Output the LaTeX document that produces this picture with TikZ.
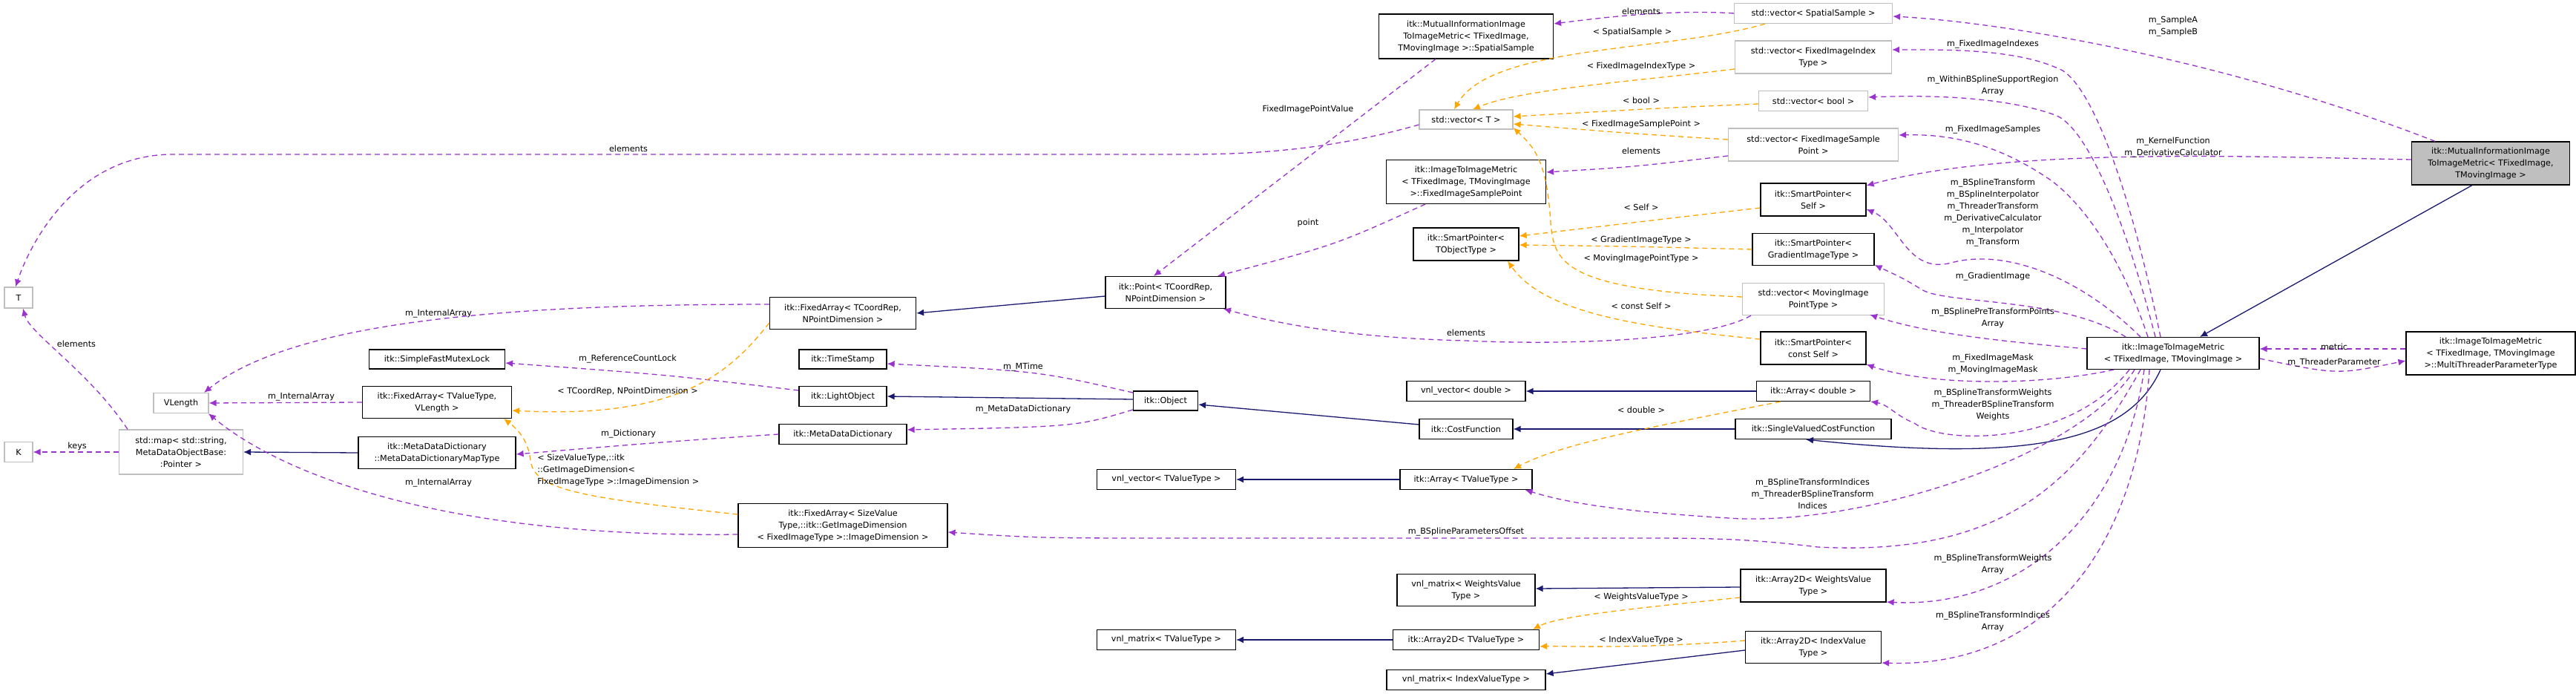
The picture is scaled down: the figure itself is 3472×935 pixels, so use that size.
\documentclass[tikz,border=0pt]{standalone}
\usepackage{fontspec}
\setmainfont{DejaVu Sans}
\usetikzlibrary{arrows.meta,calc}
\definecolor{pur}{HTML}{9A32CD}
\definecolor{org}{HTML}{FFA500}
\definecolor{nav}{HTML}{191970}
\definecolor{gb}{HTML}{BFBFBF}
\begin{document}
\begin{tikzpicture}[x=0.5pt,y=-0.5pt,
 box/.style={draw=black,line width=0.6pt,fill=white,inner sep=0pt,align=center,font=\fontsize{5.6}{8}\selectfont},
 gbox/.style={box,draw=gb},
 sz/.style 2 args={minimum width=#1*0.5pt,minimum height=#2*0.5pt},
 lbl/.style={inner sep=0pt,align=center,font=\fontsize{5.6}{8}\selectfont},
 pe/.style={draw=pur,line width=0.65pt,dash pattern=on 3.5pt off 2.5pt,-{Latex[length=5pt,width=4.5pt]}},
 oe/.style={draw=org,line width=0.65pt,dash pattern=on 3.5pt off 2.5pt,-{Latex[length=5pt,width=4.5pt]}},
 se/.style={draw=nav,line width=0.65pt,-{Latex[length=5pt,width=4.5pt]}}]
\useasboundingbox (0,0) rectangle (3472,935);
% nodes
\node[gbox,sz={38}{28}] (T) at (25,401) {T};
\node[gbox,sz={38}{27}] (K) at (25,609) {K};
\node[gbox,sz={74}{27}] (vl) at (244,543) {VLength};
\node[gbox,sz={167}{60}] (map) at (244,609) {std::map< std::string,\\MetaDataObjectBase:\\:Pointer >};
\node[box,sz={183}{26}] (sfm) at (589,484) {itk::SimpleFastMutexLock};
\node[box,sz={201}{43}] (fa2) at (589,542) {itk::FixedArray< TValueType,\\VLength >};
\node[box,sz={212}{43}] (mdt) at (589,610) {itk::MetaDataDictionary\\::MetaDataDictionaryMapType};
\node[box,sz={197}{43}] (fa1) at (1136,422) {itk::FixedArray< TCoordRep,\\NPointDimension >};
\node[box,sz={118}{26}] (ts) at (1136,484) {itk::TimeStamp};
\node[box,sz={118}{27}] (lo) at (1136,534) {itk::LightObject};
\node[box,sz={172}{27}] (mdd) at (1136,585) {itk::MetaDataDictionary};
\node[box,sz={282}{59}] (fasv) at (1136,708) {itk::FixedArray< SizeValue\\Type,::itk::GetImageDimension\\< FixedImageType >::ImageDimension >};
\node[box,sz={162}{43}] (pt) at (1571,394) {itk::Point< TCoordRep,\\NPointDimension >};
\node[box,sz={87}{26}] (obj) at (1571,540) {itk::Object};
\node[box,sz={187}{27}] (vvt) at (1572,646) {vnl\_vector< TValueType >};
\node[box,sz={187}{27}] (vmt) at (1572,862) {vnl\_matrix< TValueType >};
\node[box,sz={235}{60}] (ss) at (1976,49) {itk::MutualInformationImage\\ToImageMetric< TFixedImage,\\TMovingImage >::SpatialSample};
\node[gbox,sz={126}{26}] (vt) at (1976,161) {std::vector< T >};
\node[box,sz={215}{59}] (fsp) at (1976,245) {itk::ImageToImageMetric\\< TFixedImage, TMovingImage\\>::FixedImageSamplePoint};
\node[box,sz={142}{44}] (spt) at (1976,329) {itk::SmartPointer<\\TObjectType >};
\node[box,sz={160}{27}] (vvd) at (1976,527) {vnl\_vector< double >};
\node[box,sz={126}{27}] (cf) at (1976,578) {itk::CostFunction};
\node[box,sz={178}{27}] (at) at (1976,646) {itk::Array< TValueType >};
\node[box,sz={186}{43}] (vmw) at (1976,795) {vnl\_matrix< WeightsValue\\Type >};
\node[box,sz={197}{27}] (a2t) at (1976,862) {itk::Array2D< TValueType >};
\node[box,sz={214}{27}] (vmi) at (1976,916) {vnl\_matrix< IndexValueType >};
\node[gbox,sz={213}{27}] (vss) at (2444,18) {std::vector< SpatialSample >};
\node[gbox,sz={211}{44}] (vfi) at (2444,77) {std::vector< FixedImageIndex\\Type >};
\node[gbox,sz={147}{27}] (vb) at (2444,136) {std::vector< bool >};
\node[gbox,sz={229}{44}] (vfsp) at (2444,195) {std::vector< FixedImageSample\\Point >};
\node[box,sz={142}{44}] (sps) at (2444,269) {itk::SmartPointer<\\Self >};
\node[box,sz={164}{43}] (spg) at (2444,336) {itk::SmartPointer<\\GradientImageType >};
\node[gbox,sz={191}{43}] (vmip) at (2444,403) {std::vector< MovingImage\\PointType >};
\node[box,sz={142}{44}] (spc) at (2444,469) {itk::SmartPointer<\\const Self >};
\node[box,sz={153}{27}] (ad) at (2444,527) {itk::Array< double >};
\node[box,sz={210}{27}] (svc) at (2444,578) {itk::SingleValuedCostFunction};
\node[box,sz={196}{44}] (a2w) at (2444,789) {itk::Array2D< WeightsValue\\Type >};
\node[box,sz={183}{43}] (a2i) at (2444,872) {itk::Array2D< IndexValue\\Type >};
\node[box,sz={232}{43}] (itm) at (2929,476) {itk::ImageToImageMetric\\< TFixedImage, TMovingImage >};
\node[box,fill=gb,sz={213}{58}] (mi) at (3357,220) {itk::MutualInformationImage\\ToImageMetric< TFixedImage,\\TMovingImage >};
\node[box,sz={228}{58}] (mtp) at (3357,476) {itk::ImageToImageMetric\\< TFixedImage, TMovingImage\\>::MultiThreaderParameterType};
% solid edges
\draw[se] ($(pt.west)+(0,5)$) -- (fa1.east);
\draw[se] (mdt.west) -- (map.east);
\draw[se] ($(obj.west)+(0,-2)$) -- (lo.east);
\draw[se] ($(cf.west)+(0,-6)$) -- ($(obj.east)+(0,5)$);
\draw[se] (svc.west) -- (cf.east);
\draw[se] (ad.west) -- (vvd.east);
\draw[se] (at.west) -- (vvt.east);
\draw[se] ($(a2w.west)+(0,2)$) -- ($(vmw.east)+(0,-2)$);
\draw[se] (a2t.west) -- (vmt.east);
\draw[se] ($(a2i.west)+(0,4)$) -- ($(vmi.east)+(0,-8)$);
\draw[se] ($(itm.south)+(-17,0)$) .. controls (2870,590) and (2750,625) .. ($(svc.south)+(-10,0)$);
\draw[se] ($(mi.south)+(-25,0)$) -- ($(itm.north)+(36,0)$);
% purple edges
\draw[pe] ($(ss.south)+(-41,0)$) -- ($(pt.north)+(-16,0)$);
\draw[pe] ($(vt.west)+(0,7)$) .. controls (1800,200) and (1700,208) .. (1600,208) -- (230,208) .. controls (100,210) and (40,330) .. ($(T.north)+(-4,0)$);
\draw[pe] (vss.west) .. controls (2250,12) and (2150,25) .. ($(ss.east)+(0,-17)$);
\draw[pe] ($(vfsp.west)+(0,15)$) .. controls (2200,225) .. ($(fsp.east)+(0,-13)$);
\draw[pe] ($(fsp.south)+(-55,0)$) .. controls (1800,330) .. ($(pt.north)+(70,0)$);
\draw[pe] ($(vmip.south)+(-84,0)$) .. controls (2300,460) and (2100,465) .. (1976,459) .. controls (1800,455) and (1700,430) .. ($(pt.south)+(78,0)$);
\draw[pe] ($(fa1.west)+(0,-12)$) .. controls (700,410) and (400,430) .. ($(vl.north)+(31,0)$);
\draw[pe] (fa2.west) -- (vl.east);
\draw[pe] ($(fasv.west)+(0,12)$) .. controls (600,725) and (380,640) .. ($(vl.south)+(37,0)$);
\draw[pe] ($(map.north)+(-72,0)$) .. controls (120,500) and (40,450) .. ($(T.south)+(6,0)$);
\draw[pe] (map.west) -- (K.east);
\draw[pe] (mdd.west) .. controls (900,595) .. ($(mdt.east)+(0,2)$);
\draw[pe] ($(lo.west)+(0,-8)$) .. controls (900,505) .. ($(sfm.east)+(0,5)$);
\draw[pe] ($(obj.west)+(0,-11)$) .. controls (1400,500) .. ($(ts.east)+(0,6)$);
\draw[pe] ($(obj.west)+(0,12)$) .. controls (1450,575) .. ($(mdd.east)+(0,-6)$);
\draw[pe] ($(itm.north)+(-17,0)$) .. controls (2870,250) and (2820,120) .. (2780,95) .. controls (2720,65) and (2620,67) .. ($(vfi.east)+(0,-10)$);
\draw[pe] ($(itm.north)+(-24,0)$) .. controls (2860,280) and (2810,170) .. (2770,155) .. controls (2700,130) and (2600,128) .. ($(vb.east)+(0,-5)$);
\draw[pe] ($(itm.north)+(-34,0)$) .. controls (2850,320) and (2790,260) .. (2760,240) .. controls (2700,200) and (2640,180) .. ($(vfsp.east)+(0,-13)$);
\draw[pe] ($(itm.north)+(-44,0)$) .. controls (2800,370) and (2700,335) .. (2630,354) .. controls (2570,370) and (2560,300) .. ($(sps.east)+(0,13)$);
\draw[pe] ($(itm.north)+(-64,0)$) .. controls (2780,400) and (2620,410) .. (2590,390) .. controls (2565,375) .. ($(spg.east)+(0,21)$);
\draw[pe] ($(itm.west)+(0,-6)$) .. controls (2700,460) and (2600,450) .. ($(vmip.east)+(-20,21)$);
\draw[pe] ($(itm.south)+(-80,0)$) .. controls (2750,520) and (2600,520) .. ($(spc.east)+(0,22)$);
\draw[pe] ($(itm.south)+(-59,0)$) .. controls (2790,600) and (2620,600) .. (2580,570) .. controls (2555,560) and (2545,545) .. ($(ad.east)+(0,14)$);
\draw[pe] ($(itm.south)+(-52,0)$) .. controls (2800,620) and (2500,710) .. (2330,698) .. controls (2200,690) and (2120,680) .. ($(at.east)+(-10,14)$);
\draw[pe] ($(itm.south)+(-44,0)$) .. controls (2800,650) and (2700,750) .. (2450,737) .. controls (2350,725) and (2300,725) .. (2200,725) -- (1600,725) .. controls (1400,725) .. ($(fasv.east)+(0,9)$);
\draw[pe] ($(itm.south)+(-39,0)$) .. controls (2860,700) and (2720,820) .. ($(a2w.east)+(0,22)$);
\draw[pe] ($(itm.south)+(-32,0)$) .. controls (2880,750) and (2750,900) .. ($(a2i.east)+(0,21)$);
\draw[pe] ($(mi.north)+(-75,0)$) .. controls (3000,80) and (2700,30) .. ($(vss.east)+(0,4)$);
\draw[pe] ($(mi.west)+(0,-5)$) .. controls (3000,210) and (2700,200) .. ($(sps.east)+(0,-19)$);
\draw[pe] ($(mtp.west)+(0,-6)$) -- ($(itm.east)+(0,-6)$);
\draw[pe] ($(itm.east)+(0,7)$) .. controls (3150,505) .. ($(mtp.west)+(0,10)$);
% orange edges
\draw[oe] ($(vss.south)+(-65,0)$) .. controls (2250,70) and (2010,60) .. ($(vt.north)+(-16,0)$);
\draw[oe] ($(vfi.west)+(0,16)$) .. controls (2200,110) and (2050,120) .. ($(vt.north)+(9,0)$);
\draw[oe] ($(vb.west)+(0,4)$) .. controls (2250,145) .. ($(vt.east)+(0,-4)$);
\draw[oe] ($(vfsp.west)+(0,-7)$) .. controls (2200,180) .. ($(vt.east)+(0,6)$);
\draw[oe] ($(vmip.west)+(0,-3)$) .. controls (2100,390) and (2095,350) .. (2090,300) .. controls (2085,220) and (2070,200) .. ($(vt.east)+(0,11)$);
\draw[oe] ($(sps.west)+(0,11)$) .. controls (2200,300) .. ($(spt.east)+(0,-11)$);
\draw[oe] (spg.west) .. controls (2200,332) .. ($(spt.east)+(0,1)$);
\draw[oe] ($(spc.west)+(0,-12)$) .. controls (2200,440) and (2080,420) .. ($(spt.south)+(56,0)$);
\draw[oe] ($(fa1.west)+(0,13)$) .. controls (985,500) and (920,565) .. ($(fa2.east)+(0,11)$);
\draw[oe] ($(fasv.west)+(0,-15)$) .. controls (780,670) and (720,660) .. (715,620) .. controls (712,595) and (700,580) .. ($(fa2.south)+(90,0)$);
\draw[oe] ($(ad.south)+(-44,0)$) .. controls (2200,580) and (2100,600) .. ($(at.north)+(64,0)$);
\draw[oe] ($(a2w.west)+(0,16)$) .. controls (2200,820) and (2100,830) .. ($(a2t.north)+(90,0)$);
\draw[oe] ($(a2i.west)+(0,-9)$) .. controls (2200,875) and (2100,870) .. ($(a2t.east)+(0,9)$);
% labels
\node[lbl] (l1) at (847,200) {elements};
\node[lbl] (l2) at (103,463) {elements};
\node[lbl] (l3) at (104,601) {keys};
\node[lbl] (l4) at (406,535) {m\_InternalArray};
\node[lbl] (l5) at (591,423) {m\_InternalArray};
\node[lbl] (l6) at (591,651) {m\_InternalArray};
\node[lbl] (l7) at (846,484) {m\_ReferenceCountLock};
\node[lbl] (l8) at (846,527) {< TCoordRep, NPointDimension >};
\node[lbl] (l9) at (847,585) {m\_Dictionary};
\node[lbl,align=left,anchor=west] (l10) at (724,633) {< SizeValueType,::itk\\::GetImageDimension<\\FixedImageType >::ImageDimension >};
\node[lbl] (l11) at (1379,495) {m\_MTime};
\node[lbl] (l12) at (1379,552) {m\_MetaDataDictionary};
\node[lbl] (l13) at (1763,147) {FixedImagePointValue};
\node[lbl] (l14) at (1763,300) {point};
\node[lbl] (l15) at (1976,448) {elements};
\node[lbl] (l16) at (2212,15) {elements};
\node[lbl] (l17) at (2200,43) {< SpatialSample >};
\node[lbl] (l18) at (2212,89) {< FixedImageIndexType >};
\node[lbl] (l19) at (2212,135) {< bool >};
\node[lbl] (l20) at (2212,167) {< FixedImageSamplePoint >};
\node[lbl] (l21) at (2212,203) {elements};
\node[lbl] (l22) at (2212,279) {< Self >};
\node[lbl] (l23) at (2212,323) {< GradientImageType >};
\node[lbl] (l24) at (2212,348) {< MovingImagePointType >};
\node[lbl] (l25) at (2212,412) {< const Self >};
\node[lbl] (l26) at (2212,552) {< double >};
\node[lbl] (l27) at (1976,717) {m\_BSplineParametersOffset};
\node[lbl] (l28) at (2212,804) {< WeightsValueType >};
\node[lbl] (l29) at (2212,862) {< IndexValueType >};
\node[lbl] (l30) at (2929,36) {m\_SampleA\\m\_SampleB};
\node[lbl] (l31) at (2686,60) {m\_FixedImageIndexes};
\node[lbl] (l32) at (2686,115) {m\_WithinBSplineSupportRegion\\Array};
\node[lbl] (l33) at (2686,175) {m\_FixedImageSamples};
\node[lbl] (l34) at (2929,199) {m\_KernelFunction\\m\_DerivativeCalculator};
\node[lbl] (l35) at (2686,287) {m\_BSplineTransform\\m\_BSplineInterpolator\\m\_ThreaderTransform\\m\_DerivativeCalculator\\m\_Interpolator\\m\_Transform};
\node[lbl] (l36) at (2686,373) {m\_GradientImage};
\node[lbl] (l37) at (2686,428) {m\_BSplinePreTransformPoints\\Array};
\node[lbl] (l38) at (3146,467) {metric};
\node[lbl] (l39) at (3146,489) {m\_ThreaderParameter};
\node[lbl] (l40) at (2686,491) {m\_FixedImageMask\\m\_MovingImageMask};
\node[lbl] (l41) at (2686,545) {m\_BSplineTransformWeights\\m\_ThreaderBSplineTransform\\Weights};
\node[lbl] (l42) at (2443,665) {m\_BSplineTransformIndices\\m\_ThreaderBSplineTransform\\Indices};
\node[lbl] (l43) at (2686,760) {m\_BSplineTransformWeights\\Array};
\node[lbl] (l44) at (2686,837) {m\_BSplineTransformIndices\\Array};
\end{tikzpicture}
\end{document}
